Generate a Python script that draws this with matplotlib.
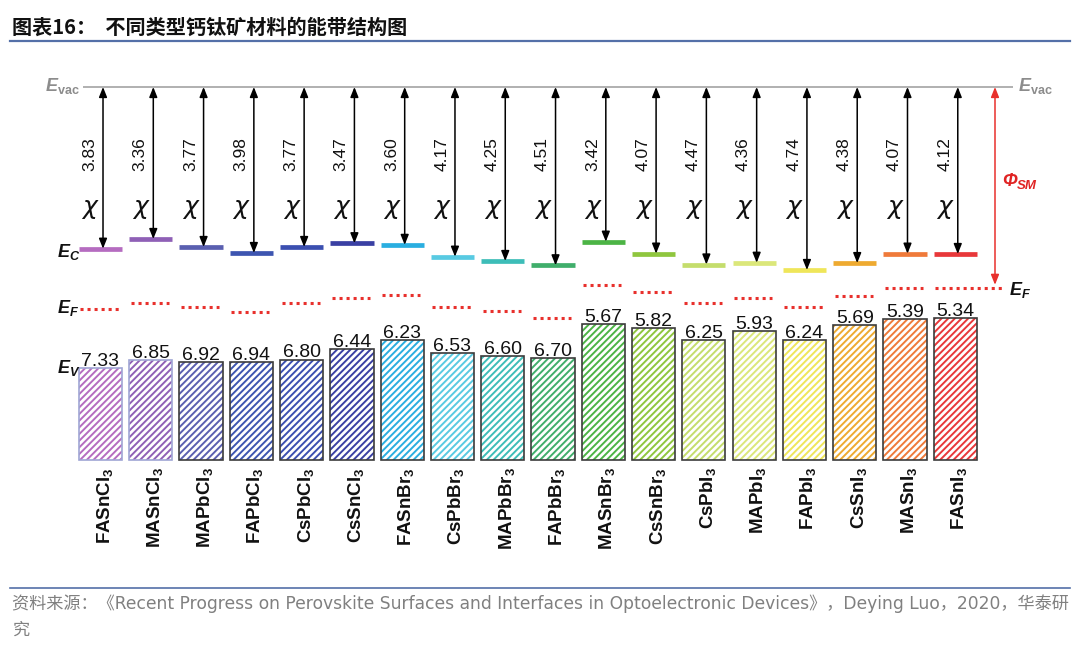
import numpy as np
import matplotlib
matplotlib.use("Agg")
import matplotlib.pyplot as plt
from matplotlib.lines import Line2D

plt.rcParams.update({
    "font.family": ["Liberation Sans", "Noto Sans CJK SC", "DejaVu Sans"],
    "mathtext.fontset": "custom",
    "mathtext.rm": "Liberation Sans",
    "mathtext.it": "Liberation Sans:italic:bold",
    "mathtext.bf": "Liberation Sans:bold",
    "hatch.linewidth": 1.4,
})

# ---------------- data ----------------
materials = ["FASnCl3", "MASnCl3", "MAPbCl3", "FAPbCl3", "CsPbCl3", "CsSnCl3",
             "FASnBr3", "CsPbBr3", "MAPbBr3", "FAPbBr3", "MASnBr3", "CsSnBr3",
             "CsPbI3", "MAPbI3", "FAPbI3", "CsSnI3", "MASnI3", "FASnI3"]
chi = [3.83, 3.36, 3.77, 3.98, 3.77, 3.47, 3.60, 4.17, 4.25, 4.51,
       3.42, 4.07, 4.47, 4.36, 4.74, 4.38, 4.07, 4.12]          # electron affinity (Ec below Evac)
ev = [7.33, 6.85, 6.92, 6.94, 6.80, 6.44, 6.23, 6.53, 6.60, 6.70,
      5.67, 5.82, 6.25, 5.93, 6.24, 5.69, 5.39, 5.34]           # valence band (Ev)
ef = [5.23, 5.15, 5.20, 5.27, 5.15, 5.09, 5.05, 5.20, 5.25, 5.34,
      4.93, 5.02, 5.15, 5.09, 5.20, 5.07, 4.96, 4.96]           # Fermi level (estimated)
colors = ["#b56cc0", "#8f60b6", "#5a5fb0", "#3d55b0", "#3b4fb0", "#3a40a3",
          "#2aaee0", "#58cae2", "#3dbdb8", "#40ae6b", "#4cb445", "#8fc63e",
          "#c4dd6c", "#dbe77a", "#efe65a", "#eeaa30", "#ef7a3a", "#e8383a"]
edgecolors = ["#a0a6d4", "#a0a6d4"] + ["#3c3c3c"] * 16

title = "图表16：  不同类型钙钛矿材料的能带结构图"
source_1 = "资料来源：《Recent Progress on Perovskite Surfaces and Interfaces in Optoelectronic Devices》，Deying Luo，2020，华泰研"
source_2 = "究"

# ---------------- schematic (non-linear) energy scale ----------------
W, H = 1080, 649
E_anch = [-3.0, 0.0, 3.36, 3.45, 3.77, 3.98, 4.12, 4.25, 4.47, 4.74,
          5.34, 5.70, 5.93, 6.24, 6.44, 6.60, 6.94, 7.33, 20.0]
P_anch = [-48.6, 87, 239, 243, 247, 253, 254, 261, 264.5, 270,
          318, 325, 331, 340, 349, 356, 362, 368, 1001.5]


def fwd(e):
    return np.interp(e, E_anch, P_anch)


def inv(p):
    return np.interp(p, P_anch, E_anch)


fig = plt.figure(figsize=(W / 100, H / 100), dpi=100)
fig.patch.set_facecolor("white")
ax = fig.add_axes([0, 0, 1, 1])
ax.set_yscale("function", functions=(fwd, inv))
x0, dx = 100.5, 50.28
ax.set_xlim(-x0 / dx, (W - x0) / dx)
ax.set_ylim(float(inv(H)), float(inv(0)))
ax.axis("off")


def yf(p):
    return 1 - p / H


def xf(p):
    return p / W


xt = ax.get_xaxis_transform()
x = np.arange(len(materials))
n = len(materials)

# vacuum level
ax.plot([-0.35, n - 1 + 1.15], [0, 0], color="#a3a3a3", lw=1.2, solid_capstyle="butt")

# valence bands: hatched boxes
bar_bottom = float(inv(460))
heights = [bar_bottom - v for v in ev]
ax.bar(x, heights, bottom=ev, width=0.86, color="white", edgecolor=colors,
       hatch="/////", linewidth=0, zorder=2)
ax.bar(x, heights, bottom=ev, width=0.86, fill=False, edgecolor=edgecolors,
       linewidth=1.2, zorder=3)
for i, v in enumerate(ev):
    ax.annotate(f"{v:.2f}", (i, v), xytext=(0, 1.5), textcoords="offset points",
                ha="center", va="baseline", fontsize=14, color="#111111")

# conduction bands
ax.hlines(chi, x - 0.43, x + 0.43, colors=colors, lw=3.4, zorder=3)

# Fermi levels
phi_x = (995 - x0) / dx
ax.hlines(ef[:-1], x[:-1] - 0.40, x[:-1] + 0.36, colors="#e8302c",
          linestyles=[(0, (1, 1.3))], lw=2.2)
ax.hlines([ef[-1]], [x[-1] - 0.40], [phi_x + 0.2], colors="#e8302c",
          linestyles=[(0, (1, 1.3))], lw=2.2)

# electron-affinity arrows
for i, c in enumerate(chi):
    ax.annotate("", xy=(i + 0.05, c), xytext=(i + 0.05, 0.0),
                arrowprops=dict(arrowstyle="<|-|>,head_length=0.6,head_width=0.24",
                                color="black", lw=1.1, shrinkA=0, shrinkB=0), zorder=4)
    ax.text(i - 0.21, yf(154), f"{c:.2f}", transform=xt, rotation=90,
            ha="center", va="center", fontsize=12.5, color="#111111")
    ax.text(i - 0.21, yf(207), "χ", transform=xt, ha="center", va="center",
            fontsize=18, style="italic", family=["DejaVu Sans"], color="#111111")

# work function arrow
ax.annotate("", xy=(phi_x, ef[-1]), xytext=(phi_x, 0.0),
            arrowprops=dict(arrowstyle="<|-|>,head_length=0.6,head_width=0.24",
                            color="#e8302c", lw=1.1, shrinkA=0, shrinkB=2))
red = "#e02424"
fig.text(xf(1002), yf(181), "Φ", color=red, fontsize=13, style="italic",
         fontweight="bold", ha="left", va="center")
fig.text(xf(1017), yf(186), "SM", color=red, fontsize=9.5, style="italic",
         fontweight="bold", ha="left", va="center")

# material labels
for i, m in enumerate(materials):
    lab = m[:-1] + r"$_{\mathbf{3}}$"
    ax.text(i + 0.08, yf(467), lab, transform=xt, rotation=90, ha="center",
            va="top", fontsize=13.5, fontweight="bold", color="#111111")

# side labels
grey = "#8c8c8c"
fig.text(xf(45), yf(86), r"$E_{\mathbf{vac}}$", color=grey, fontsize=13, ha="left", va="center")
fig.text(xf(1018), yf(86), r"$E_{\mathbf{vac}}$", color=grey, fontsize=13, ha="left", va="center")
fig.text(xf(57), yf(252), r"$E_C$", color="#111111", fontsize=13, ha="left", va="center")
fig.text(xf(57), yf(308), r"$E_F$", color="#111111", fontsize=13, ha="left", va="center")
fig.text(xf(57), yf(368), r"$E_V$", color="#111111", fontsize=13, ha="left", va="center")
fig.text(xf(1009), yf(290), r"$E_F$", color="#111111", fontsize=13, ha="left", va="center")

# title and source
fig.text(xf(12), yf(27), title, fontsize=14.5, fontweight="bold",
         family=["Noto Sans CJK SC"], ha="left", va="center", color="#111111")
fig.add_artist(Line2D([xf(10), xf(1070)], [yf(41), yf(41)], color="#5470a8", lw=1.6))
fig.add_artist(Line2D([xf(10), xf(1070)], [yf(588), yf(588)], color="#5470a8", lw=1.2))
fig.text(xf(12), yf(604), source_1, fontsize=12.35, color="#808080",
         family=["DejaVu Sans", "Noto Sans CJK SC"], ha="left", va="center")
fig.text(xf(12), yf(630), source_2, fontsize=12.35, color="#808080",
         family=["Noto Sans CJK SC"], ha="left", va="center")

fig.savefig("out.png", dpi=100, facecolor="white")
